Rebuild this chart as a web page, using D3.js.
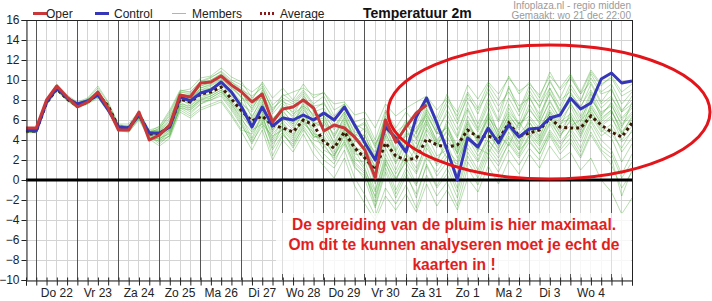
<!DOCTYPE html>
<html><head><meta charset="utf-8">
<script src="https://cdn.jsdelivr.net/npm/d3@7"></script>
<style>
html,body{margin:0;padding:0;background:#fff;}
svg{display:block;font-family:Arial,"Liberation Sans",sans-serif;}
</style></head>
<body>
<svg id="chart" width="712" height="301"></svg>
<script>
// ---- data (6-hourly steps starting wo 21 dec 18:00) ----
const dayLabels = ["Do 22","Vr 23","Za 24","Zo 25","Ma 26","Di 27","Wo 28","Do 29","Vr 30","Za 31","Zo 1","Ma 2","Di 3","Wo 4"];
const yTicks = [-10,-8,-6,-4,-2,0,2,4,6,8,10,12,14,16];
const oper = [5.2,5.2,8.0,9.4,8.3,7.3,7.8,8.8,7.2,5.0,5.0,6.8,4.0,4.5,5.5,8.5,8.3,9.7,9.8,10.4,9.5,8.8,7.8,8.6,5.8,7.1,7.3,8.0,7.2,4.9,5.5,5.2,4.3,3.0,0.2,6.0,3.8,5.3,6.7,7.5];
const control = [5.0,4.9,7.8,9.2,8.2,7.6,7.9,8.5,7.0,5.3,5.2,6.5,4.7,4.7,5.3,8.3,7.9,8.7,9.0,9.8,8.8,7.3,5.3,7.3,5.4,6.2,6.0,6.5,6.0,6.7,6.0,7.3,5.5,3.7,2.0,5.3,4.2,2.8,6.3,8.2,5.7,3.0,0.0,4.2,3.3,5.2,3.7,5.5,4.3,5.1,5.2,6.2,6.5,8.2,7.1,7.7,10.1,10.7,9.7,9.9];
const average = [4.9,4.9,7.7,9.1,8.1,7.4,7.8,8.6,7.4,5.3,5.2,6.6,4.6,4.6,5.4,8.1,7.8,8.6,8.8,9.3,8.1,6.9,5.9,6.4,5.5,5.2,4.8,6.0,5.5,3.8,3.2,4.8,3.2,2.2,1.0,3.7,2.4,2.0,2.2,4.1,3.5,3.3,3.5,5.0,4.3,4.4,4.0,5.7,4.4,4.7,5.0,6.2,5.3,5.2,5.2,6.4,5.5,4.8,4.3,5.7];
const member01 = [5.1,5.0,7.9,9.3,8.3,7.5,8.0,9.0,7.3,5.4,5.3,6.6,4.8,5.0,6.2,8.8,8.8,9.8,10.2,10.9,10.0,9.5,8.8,9.6,7.5,8.4,8.8,9.2,8.5,8.7,7.6,7.8,6.5,6.8,5.2,7.6,6.4,7.2,7.8,8.4,7.0,8.2,6.8,9.5,8.1,9.8,8.6,10.2,8.9,9.6,8.5,10.4,9.2,10.6,8.8,11.0,9.6,10.2,8.4,9.0];
const member02 = [4.8,4.7,7.6,9.0,8.0,7.3,7.7,8.4,7.1,5.1,5.0,6.3,4.4,3.6,4.5,7.4,6.8,7.6,8.0,8.6,7.2,5.6,3.6,5.8,2.4,4.5,3.6,5.2,3.4,2.0,1.2,3.0,0.2,-1.5,-3.6,-0.8,-2.4,-0.5,-2.8,0.5,-1.6,-0.2,-2.6,1.2,-0.5,2.4,0.8,3.0,1.5,3.2,2.0,4.4,2.6,3.8,2.2,4.5,2.8,1.5,-0.8,0.8];
const member03 = [5.0,5.1,7.8,9.4,8.4,7.7,8.1,8.8,7.2,5.5,5.4,6.7,4.9,4.3,5.8,8.4,8.0,9.2,9.5,10.1,9.2,8.4,6.2,8.4,5.6,7.6,6.8,8.2,6.2,6.5,4.2,6.4,3.8,4.6,1.8,6.8,4.2,6.0,4.6,7.2,5.0,6.6,4.4,7.8,5.6,8.2,6.0,9.4,6.8,9.0,7.2,10.0,8.0,8.8,7.2,9.6,7.6,8.4,6.2,7.4];
const member04 = [4.7,4.8,7.5,8.9,7.9,7.2,7.6,8.7,7.6,5.2,4.9,6.2,4.2,3.9,4.8,7.0,6.4,7.2,7.6,8.0,6.6,5.0,4.6,6.2,4.0,5.5,4.2,6.4,5.0,3.4,2.2,4.6,2.4,1.0,-1.2,2.6,0.6,2.6,0.8,3.8,2.0,3.6,1.2,4.8,3.0,5.8,3.6,6.2,4.6,5.8,4.4,6.8,5.4,7.6,6.2,8.0,6.8,7.4,5.6,6.8];
const member05 = [5.2,5.2,8.1,9.6,8.5,7.8,8.2,9.4,7.8,5.6,5.6,6.9,5.0,5.3,6.8,8.9,9.1,10.2,10.4,11.2,10.3,9.8,8.2,9.4,6.8,8.6,7.8,9.0,7.6,8.4,6.4,7.6,5.8,6.2,4.0,7.0,5.2,6.8,5.6,7.8,6.2,8.6,6.0,8.2,7.0,8.8,6.8,9.2,7.4,8.2,6.6,8.6,7.0,9.2,7.8,10.6,8.8,9.6,7.6,8.8];
const member06 = [4.9,4.8,7.7,9.1,8.1,7.5,7.8,8.3,6.9,5.0,4.8,6.1,4.3,4.1,5.0,7.8,7.2,8.1,8.4,9.0,7.6,6.2,4.2,6.6,3.2,5.6,4.6,6.0,4.4,4.0,2.6,3.8,1.6,0.6,-2.2,1.8,-1.0,1.2,-0.6,2.6,0.4,1.8,-0.8,2.8,1.0,3.6,2.2,4.2,2.6,4.6,3.4,5.6,3.8,5.0,3.2,5.8,4.0,3.0,0.6,2.6];
const member07 = [5.1,5.1,7.9,9.2,8.2,7.6,8.0,8.6,7.1,5.3,5.3,6.5,4.6,4.8,5.6,8.6,8.4,9.4,9.7,10.3,9.4,8.6,7.4,8.8,6.6,7.8,7.4,8.6,6.8,7.2,5.4,6.8,4.6,4.0,2.8,5.8,3.6,4.4,5.2,6.6,4.6,5.2,3.2,6.4,4.8,6.6,4.2,5.8,3.6,6.2,4.8,7.4,5.8,6.6,4.4,7.2,5.8,6.8,5.2,7.8];
const member08 = [4.8,4.9,7.6,9.0,8.0,7.4,7.7,8.5,7.3,5.2,5.1,6.4,4.5,4.2,4.6,7.6,7.0,8.0,8.2,8.8,7.8,6.6,5.0,5.6,4.4,5.0,3.8,5.6,4.8,3.0,2.4,5.2,3.4,2.0,0.4,4.6,2.8,1.6,3.2,5.6,3.8,2.2,1.6,4.4,3.2,2.6,4.6,3.4,5.8,4.2,5.6,6.6,4.6,5.4,6.0,7.0,5.2,4.6,3.2,5.0];
const member09 = [5.0,5.0,7.8,9.3,8.2,7.5,7.9,8.9,7.5,5.3,5.2,6.6,4.7,5.2,6.4,8.2,8.6,9.6,10.0,10.6,9.6,8.8,7.0,9.0,7.2,8.0,6.6,7.4,5.6,6.0,3.6,5.6,2.8,3.4,0.8,4.4,1.8,4.0,2.4,5.0,3.2,6.0,4.2,7.0,5.0,7.4,4.6,6.4,5.2,7.6,6.0,8.8,6.6,7.8,5.8,8.6,6.2,7.0,4.6,6.0];
const member10 = [4.9,5.0,7.7,9.2,8.2,7.6,7.9,8.4,7.0,5.2,5.2,6.5,4.6,4.4,5.2,8.0,7.6,8.6,9.0,9.6,8.6,7.2,5.8,7.6,5.0,6.8,5.8,7.2,5.6,5.6,3.8,5.8,3.4,2.6,-0.4,3.2,1.0,3.4,1.8,4.6,2.4,3.0,1.8,5.4,4.0,5.0,3.0,6.0,4.2,4.8,3.6,5.8,4.4,6.0,4.6,6.4,4.8,5.6,3.8,4.8];
const member11 = [5.1,5.0,7.8,9.1,8.1,7.5,7.8,8.6,7.2,5.4,5.3,6.6,4.8,4.6,5.0,7.8,8.2,9.0,9.4,10.0,9.0,7.8,6.4,8.0,4.8,6.4,5.2,6.6,5.2,5.8,4.6,6.2,4.4,5.2,3.4,6.4,4.8,5.6,4.2,6.0,4.0,5.4,3.4,5.8,3.6,6.4,4.4,7.2,5.4,7.0,5.8,7.8,6.2,8.6,7.4,9.0,7.2,8.2,6.8,8.4];
const member12 = [4.8,4.8,7.6,9.0,8.0,7.3,7.6,8.2,6.8,4.9,4.8,6.0,4.1,3.4,4.2,6.8,6.2,7.0,7.4,7.8,6.4,4.8,3.0,5.0,2.0,4.0,2.8,4.6,2.6,1.4,0.2,2.2,-0.6,-2.4,-4.0,-1.6,-3.0,-1.4,-3.2,-0.4,-2.6,-1.0,-3.0,0.2,-1.2,1.4,-0.4,2.0,0.6,2.6,1.2,3.4,2.0,2.8,1.0,2.2,0.0,-1.2,-3.4,-1.8];
const member13 = [5.0,4.9,7.8,9.2,8.3,7.7,8.0,8.7,7.3,5.4,5.3,6.7,4.8,5.4,7.0,9.0,8.8,9.9,10.3,10.8,9.8,9.2,8.0,9.8,8.2,9.2,8.0,9.6,8.2,8.8,7.0,7.6,5.2,5.6,3.2,6.2,3.6,5.2,3.0,6.2,3.8,5.6,2.6,6.0,3.8,6.8,4.8,7.6,5.6,8.4,6.2,9.2,7.4,9.6,8.0,10.2,8.6,9.0,7.0,8.0];
const member14 = [4.9,4.9,7.7,9.0,8.0,7.4,7.8,8.5,7.2,5.1,5.0,6.3,4.5,4.0,4.4,7.2,6.6,7.6,8.2,8.8,7.4,5.8,4.0,6.0,3.6,4.8,3.2,5.0,3.6,2.6,1.6,4.0,1.4,0.0,-2.8,0.8,-1.8,0.4,-1.4,1.4,-0.8,0.6,-1.8,1.8,0.2,2.8,1.4,3.8,2.4,4.4,3.0,5.0,3.6,4.6,2.8,5.4,3.4,2.6,0.2,1.8];
const member15 = [5.1,5.1,7.9,9.3,8.3,7.6,8.1,9.2,7.7,5.5,5.4,6.8,4.9,4.9,5.8,8.4,8.2,9.4,9.8,10.4,9.4,8.2,7.8,8.2,6.0,7.2,6.4,8.4,7.0,7.8,5.8,7.2,5.2,5.8,3.6,5.4,3.0,5.8,4.0,7.0,5.4,7.6,5.6,8.6,6.6,9.2,7.4,8.8,7.0,9.4,7.8,9.8,8.2,10.4,8.6,9.8,7.8,9.2,6.8,7.6];
const member16 = [4.8,4.8,7.6,9.1,8.1,7.4,7.7,8.4,7.0,5.2,5.1,6.4,4.5,4.5,5.4,8.2,7.4,8.4,8.6,9.2,8.0,6.8,5.4,7.0,4.2,6.0,5.0,6.8,4.6,4.4,2.8,4.8,2.0,1.8,-1.0,2.2,0.0,2.0,0.6,3.2,1.6,4.4,2.2,4.2,2.4,4.0,2.6,4.8,3.0,5.2,3.8,6.2,4.2,6.8,5.2,7.4,5.6,6.4,4.0,5.4];
const member17 = [5.0,5.0,7.8,9.2,8.2,7.6,7.9,8.6,7.1,5.3,5.2,6.5,4.7,4.9,6.0,8.6,8.0,9.0,9.2,9.8,8.8,7.6,6.8,8.4,6.2,7.0,5.6,7.8,6.4,6.8,5.0,6.6,4.0,3.0,1.4,5.2,2.8,4.8,3.6,6.8,4.6,7.0,5.0,7.2,5.2,7.8,5.8,8.2,6.4,8.6,7.4,9.2,6.8,8.4,6.4,8.8,6.6,7.6,5.4,6.6];
const member18 = [4.9,4.9,7.7,9.1,8.1,7.5,7.8,8.5,7.2,5.2,5.2,6.5,4.6,4.3,5.0,7.6,7.4,8.2,8.6,9.2,7.8,6.4,5.2,6.8,4.6,5.8,4.4,6.2,4.2,4.8,3.2,5.4,3.0,1.2,-1.8,1.6,-0.2,2.8,1.2,3.6,1.4,2.8,0.6,3.6,2.0,4.6,3.2,5.2,3.8,5.4,4.0,6.2,4.8,5.8,4.2,6.6,5.0,4.2,1.8,3.6];
const member19 = [5.0,4.9,7.8,9.1,8.2,7.5,7.9,8.6,7.3,5.3,5.1,6.5,4.6,4.6,5.6,8.4,7.8,8.8,9.2,9.7,8.6,7.4,6.0,7.8,5.2,6.6,5.4,7.0,5.8,5.2,3.4,5.0,2.6,2.4,0.2,3.8,1.6,3.8,2.6,5.2,3.6,4.8,3.0,5.6,4.2,6.0,4.0,6.6,5.0,7.2,5.6,8.0,6.0,7.4,5.4,8.2,6.4,7.8,6.0,7.2];
const member20 = [4.9,5.0,7.7,9.2,8.1,7.4,7.8,8.5,7.1,5.2,5.2,6.4,4.7,4.5,5.2,8.0,8.0,9.2,9.6,10.2,9.2,8.2,7.2,8.6,6.0,7.4,6.2,7.6,6.0,6.2,4.4,6.0,4.2,3.6,1.2,4.8,2.2,4.6,3.0,5.8,3.4,5.0,2.6,4.6,2.8,5.4,3.4,5.6,3.2,5.8,4.2,6.8,5.0,6.4,4.8,7.6,6.0,7.0,4.8,6.2];
const member21 = [5.1,5.0,7.9,9.3,8.2,7.6,8.0,8.8,7.4,5.4,5.3,6.6,4.8,5.1,6.6,8.8,8.6,9.6,10.0,10.6,9.8,9.0,8.4,9.2,7.0,8.2,7.6,8.8,7.4,7.6,6.2,7.2,5.6,5.0,2.4,6.0,3.8,5.6,4.8,7.6,5.8,8.0,6.4,8.8,7.2,9.6,8.0,10.4,8.6,9.8,8.2,10.8,9.0,10.2,8.6,10.8,9.4,10.4,8.8,9.6];
const member22 = [4.8,4.9,7.6,9.0,8.0,7.3,7.7,8.3,6.9,5.1,5.0,6.2,4.4,3.8,4.4,7.2,7.0,7.8,8.0,8.4,7.0,5.4,3.8,5.4,3.0,4.6,3.4,5.4,4.0,3.6,2.0,3.6,1.2,0.4,-1.6,2.0,0.2,1.8,-0.4,2.2,0.8,2.4,0.4,3.2,1.8,4.0,2.8,4.4,3.0,4.0,2.6,4.8,3.2,5.2,3.8,6.0,4.4,5.2,2.8,4.2];
const member23 = [5.0,5.0,7.8,9.2,8.2,7.6,7.9,8.6,7.2,5.3,5.2,6.6,4.7,4.7,5.4,8.2,7.8,8.8,9.0,9.6,8.4,7.0,5.6,7.2,5.0,6.4,5.6,7.4,6.6,6.4,5.2,6.8,4.8,4.4,2.2,5.6,4.4,3.2,4.8,6.4,4.8,3.8,2.8,5.0,4.4,6.2,5.0,6.8,5.6,6.4,5.2,7.0,5.6,6.2,5.0,6.8,5.4,6.2,4.6,6.4];
const member24 = [4.9,4.9,7.7,9.1,8.1,7.5,7.8,8.4,7.0,5.2,5.1,6.4,4.5,4.1,4.8,7.4,7.2,8.0,8.4,9.0,7.6,6.0,4.8,6.4,3.8,5.2,4.0,5.8,4.4,4.2,2.4,4.4,1.8,0.8,-2.6,1.2,-1.4,0.8,-1.8,1.6,-0.6,1.2,-1.2,2.4,0.6,3.2,1.8,3.6,2.2,3.8,2.6,4.6,3.0,4.2,2.4,4.8,3.0,2.2,-1.6,1.0];
const members = [member01,member02,member03,member04,member05,member06,member07,member08,member09,member10,member11,member12,
                 member13,member14,member15,member16,member17,member18,member19,member20,member21,member22,member23,member24];

// ---- layout ----
const L = 26, R = 632, T = 20, B = 280;
const svg = d3.select("#chart");
const x = d3.scaleLinear().domain([0, 59]).range([L, R]);
const y = d3.scaleLinear().domain([-10, 16]).range([B, T]);
const steps = d3.range(0, 60);

// grid
const g = svg.append("g");
g.selectAll(".hg").data(yTicks).join("line")
  .attr("x1", L).attr("x2", R).attr("y1", d => y(d)).attr("y2", d => y(d))
  .attr("stroke", "#d4d4d4").attr("stroke-width", 1).attr("shape-rendering", "crispEdges");
g.selectAll(".vg").data(steps.filter(i => (i - 1) % 4 !== 0)).join("line")
  .attr("x1", d => x(d)).attr("x2", d => x(d)).attr("y1", T).attr("y2", B)
  .attr("stroke", "#d4d4d4").attr("stroke-width", 1).attr("shape-rendering", "crispEdges");
g.selectAll(".vm").data(steps.filter(i => (i - 1) % 4 === 0)).join("line")
  .attr("x1", d => x(d)).attr("x2", d => x(d)).attr("y1", T).attr("y2", B)
  .attr("stroke", "#555").attr("stroke-width", 1).attr("shape-rendering", "crispEdges");

// members
const line = d3.line().x((d, i) => x(i)).y(d => y(d));
svg.append("g").selectAll("path").data(members).join("path")
  .attr("d", line).attr("fill", "none")
  .attr("stroke", "#45a832").attr("stroke-opacity", 0.38).attr("stroke-width", 1);

// zero line
svg.append("line").attr("x1", L).attr("x2", R).attr("y1", y(0)).attr("y2", y(0))
  .attr("stroke", "#000").attr("stroke-width", 3);

// average, control, oper
svg.append("path").datum(average).attr("d", line).attr("fill", "none")
  .attr("stroke", "#3d1a05").attr("stroke-width", 3).attr("stroke-dasharray", "3,3");
svg.append("path").datum(control).attr("d", line).attr("fill", "none")
  .attr("stroke", "#3636b8").attr("stroke-width", 3).attr("stroke-linejoin", "round");
svg.append("path").datum(oper).attr("d", line).attr("fill", "none")
  .attr("stroke", "#c8383a").attr("stroke-width", 3).attr("stroke-linejoin", "round");

// frame
svg.append("line").attr("x1", L).attr("x2", R).attr("y1", T + 0.5).attr("y2", T + 0.5).attr("stroke", "#222");
svg.append("line").attr("x1", R + 0.5).attr("x2", R + 0.5).attr("y1", T).attr("y2", B).attr("stroke", "#222");

// axes
const yAxis = d3.axisLeft(y).tickValues(yTicks).tickSize(5).tickPadding(2);
const ya = svg.append("g").attr("transform", `translate(${L + 0.5},0)`).call(yAxis);
ya.select(".domain").attr("stroke", "#222");
ya.selectAll(".tick line").attr("stroke", "#222");
ya.selectAll("text").attr("font-size", 12).attr("fill", "#222").attr("font-family", "Arial, Liberation Sans, sans-serif");

const xAxis = d3.axisBottom(x).tickValues(steps).tickSize(5).tickFormat("");
const xa = svg.append("g").attr("transform", `translate(0,${B + 0.5})`).call(xAxis);
xa.select(".domain").attr("stroke", "#222");
xa.selectAll(".tick line").attr("stroke", "#222").attr("y1", -3);
svg.append("g").selectAll("text").data(dayLabels).join("text")
  .attr("x", (d, k) => x(3 + 4 * k)).attr("y", 297).attr("text-anchor", "middle")
  .attr("font-size", 12).attr("fill", "#222").text(d => d);

// ellipse
svg.append("ellipse").attr("cx", 549).attr("cy", 112).attr("rx", 161).attr("ry", 67)
  .attr("fill", "none").attr("stroke", "#e3151b").attr("stroke-width", 3);

// annotation box + text
svg.append("rect").attr("x", 276).attr("y", 213).attr("width", 355).attr("height", 61)
  .attr("fill", "#fff").attr("fill-opacity", 0.8);
const notes = ["De spreiding van de pluim is hier maximaal.", "Om dit te kunnen analyseren moet je echt de", "kaarten in !"];
svg.append("g").selectAll("text").data(notes).join("text")
  .attr("x", 454).attr("y", (d, i) => 230 + i * 20).attr("text-anchor", "middle")
  .attr("font-size", 15.6).attr("font-weight", "bold").attr("fill", "#e01e1e").text(d => d);

// legend
const legend = [
  {name: "Oper", x: 33, color: "#c8383a", w: 3, dash: null, tx: 13},
  {name: "Control", x: 95, color: "#3636b8", w: 3, dash: null, tx: 19},
  {name: "Members", x: 172, color: "#8fcf80", w: 1, dash: null, tx: 20},
  {name: "Average", x: 260, color: "#8b1a1a", w: 3, dash: "2,2", tx: 20}
];
const lg = svg.append("g").selectAll("g").data(legend).join("g");
lg.append("line").attr("x1", d => d.x).attr("x2", d => d.x + 14).attr("y1", 13.5).attr("y2", 13.5)
  .attr("stroke", d => d.color).attr("stroke-width", d => d.w).attr("stroke-dasharray", d => d.dash);
lg.append("text").attr("x", d => d.x + d.tx).attr("y", 18)
  .attr("font-size", 12).attr("fill", "#222").text(d => d.name);

// title
svg.append("text").attr("x", 363).attr("y", 18).attr("font-size", 14).attr("font-weight", "bold")
  .attr("fill", "#111").text("Temperatuur 2m");
svg.append("text").attr("x", 631).attr("y", 9).attr("text-anchor", "end").attr("font-size", 10)
  .attr("fill", "#9a9a9a").text("Infoplaza.nl - regio midden");
svg.append("text").attr("x", 631).attr("y", 18.5).attr("text-anchor", "end").attr("font-size", 10)
  .attr("fill", "#9a9a9a").text("Gemaakt: wo 21 dec 22:00");
</script>
</body></html>
